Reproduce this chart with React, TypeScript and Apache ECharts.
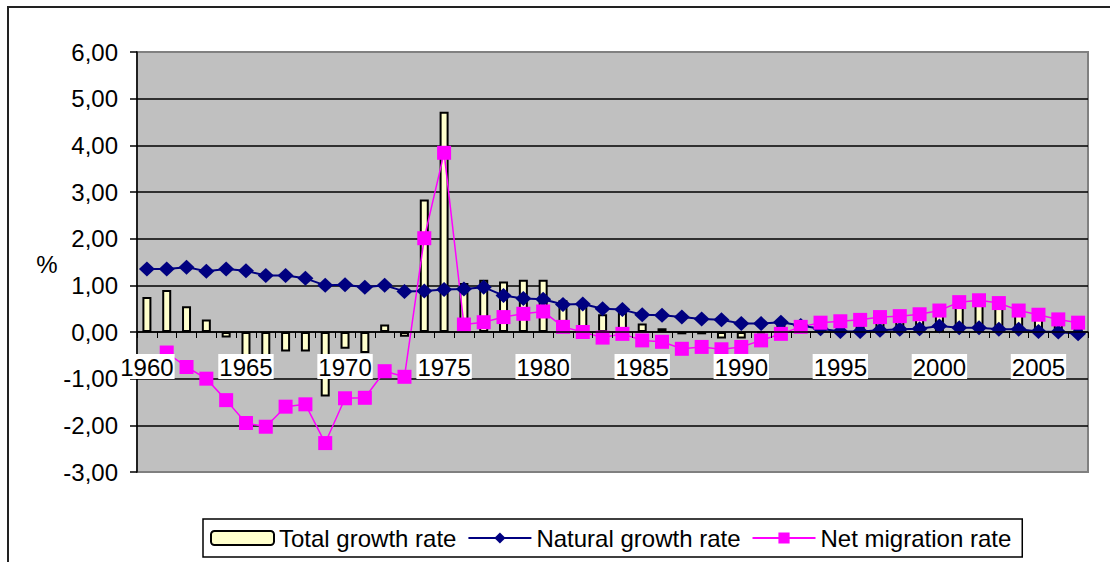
import React, { useEffect, useRef } from "react";
import * as echarts from "echarts";

const years: string[] = [];
for (let y = 1960; y <= 2007; y++) years.push(String(y));

const totalGrowth = [
  0.75, 0.9, 0.55, 0.27, -0.12, -0.62, -0.8, -0.42, -0.42, -1.38,
  -0.36, -0.45, 0.16, -0.1, 2.84, 4.72, 1.05, 1.12, 1.08, 1.12,
  1.12, 0.68, 0.58, 0.38, 0.42, 0.18, 0.08, -0.05, -0.05, -0.14,
  -0.14, -0.02, 0.15, 0.25, 0.27, 0.23, 0.26, 0.36, 0.4, 0.45,
  0.59, 0.73, 0.77, 0.68, 0.52, 0.38, 0.27, 0.16,
];

const naturalGrowth = [
  1.35, 1.35, 1.39, 1.3, 1.35, 1.31, 1.21, 1.21, 1.15, 1.0,
  1.01, 0.96, 1.0, 0.87, 0.88, 0.91, 0.92, 0.96, 0.78, 0.72,
  0.7, 0.59, 0.6, 0.5, 0.48, 0.37, 0.36, 0.32, 0.28, 0.26,
  0.18, 0.18, 0.21, 0.14, 0.07, 0.01, 0.01, 0.04, 0.06, 0.07,
  0.13, 0.09, 0.09, 0.06, 0.06, 0.01, 0.0, -0.04,
];

const netMigration = [
  null, -0.44, -0.75, -1.0, -1.46, -1.95, -2.03, -1.6, -1.55, -2.38,
  -1.42, -1.41, -0.84, -0.96, 2.01, 3.84, 0.16, 0.21, 0.32, 0.39,
  0.44, 0.11, 0.0, -0.12, -0.04, -0.18, -0.21, -0.36, -0.32, -0.37,
  -0.32, -0.18, -0.04, 0.11, 0.2, 0.23, 0.26, 0.32, 0.34, 0.38,
  0.46, 0.64, 0.68, 0.62, 0.46, 0.37, 0.27, 0.2,
];

const seriesNames = ["Total growth rate", "Natural growth rate", "Net migration rate"];

const FONT = "'Liberation Sans', Arial, sans-serif";

const Y_MIN = -3;
const Y_MAX = 6;
const GRID_TOP = 52;
const GRID_BOTTOM = 90;
const CHART_H = 562;

export default function App() {
  const ref = useRef<HTMLDivElement>(null);
  useEffect(() => {
    if (!ref.current) return;
    const chart = echarts.init(ref.current, undefined, { renderer: "svg" });
    const splitColors = ["#808080", "#000", "#000", "#000", "#000", "#000", "#000", "#000", "#000", "#808080"];
    const gridH = CHART_H - GRID_TOP - GRID_BOTTOM;
    const zeroOffset = -(gridH * (0 - Y_MIN)) / (Y_MAX - Y_MIN);
    chart.setOption({
      animation: false,
      backgroundColor: "#fff",
      textStyle: { fontFamily: FONT },
      grid: {
        left: 137,
        right: 22,
        top: GRID_TOP,
        bottom: GRID_BOTTOM,
        show: true,
        backgroundColor: "#C0C0C0",
        borderColor: "#808080",
        borderWidth: 2,
      },
      graphic: [
        {
          type: "rect",
          shape: { x: 8, y: 7, width: 1300, height: 800 },
          style: { fill: "none", stroke: "#222", lineWidth: 2 },
          silent: true,
        },
        {
          type: "text",
          x: 47,
          y: 264,
          style: {
            text: "%",
            fontSize: 24,
            fontFamily: FONT,
            fill: "#000",
            align: "center",
            verticalAlign: "middle",
          },
        },
      ],
      legend: {
        data: seriesNames,
        left: 203,
        top: 519,
        orient: "horizontal",
        selectedMode: false,
        itemWidth: 63,
        itemHeight: 14,
        itemGap: 11,
        padding: [7, 11, 7, 7],
        borderColor: "#000",
        borderWidth: 1.5,
        backgroundColor: "#fff",
        textStyle: { fontSize: 24, fontFamily: FONT, color: "#000", lineHeight: 24 },
      },
      xAxis: {
        type: "category",
        data: years,
        boundaryGap: true,
        position: "bottom",
        offset: zeroOffset,
        z: 5,
        axisLine: { onZero: false, lineStyle: { color: "#000", width: 1.5 } },
        axisTick: { show: true, interval: 0, length: 6, lineStyle: { color: "#000" } },
        axisLabel: {
          interval: 4,
          margin: 22,
          fontSize: 24,
          fontFamily: FONT,
          color: "#000",
          backgroundColor: "#fff",
          padding: [1, 1, 0, 1],
          lineHeight: 24,
        },
        splitLine: { show: false },
      },
      yAxis: {
        type: "value",
        min: Y_MIN,
        max: Y_MAX,
        interval: 1,
        axisLine: { show: true, lineStyle: { color: "#000", width: 1.5 } },
        axisTick: { show: true, length: 7, lineStyle: { color: "#000", width: 1.5 } },
        axisLabel: {
          margin: 19,
          fontSize: 24,
          fontFamily: FONT,
          color: "#000",
          formatter: (v: number) => v.toFixed(2).replace(".", ","),
        },
        splitLine: { show: true, lineStyle: { color: splitColors, width: 1.5 } },
      },
      series: [
        {
          name: seriesNames[0],
          type: "bar",
          data: totalGrowth,
          barWidth: 9,
          itemStyle: { color: "#FFFFCC", borderColor: "#000", borderWidth: 2 },
        },
        {
          name: seriesNames[1],
          type: "line",
          data: naturalGrowth,
          symbol: "diamond",
          symbolSize: [16, 15],
          showSymbol: true,
          showAllSymbol: true,
          lineStyle: { color: "#000080", width: 2 },
          itemStyle: { color: "#000080" },
        },
        {
          name: seriesNames[2],
          type: "line",
          data: netMigration,
          symbol: "rect",
          symbolSize: 14,
          showSymbol: true,
          showAllSymbol: true,
          connectNulls: false,
          lineStyle: { color: "#FF00FF", width: 1.5 },
          itemStyle: { color: "#FF00FF" },
        },
      ],
    });
    return () => chart.dispose();
  }, []);
  return (
    <div
      ref={ref}
      style={{ position: "fixed", left: 0, top: 0, width: 1110, height: 562 }}
    />
  );
}
